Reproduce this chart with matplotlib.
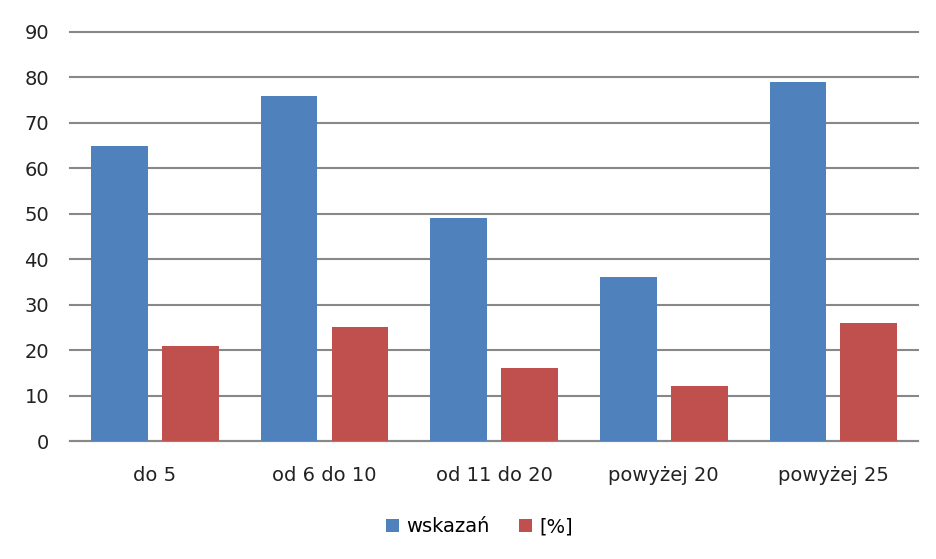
import matplotlib.pyplot as plt
import numpy as np

categories = ['do 5', 'od 6 do 10', 'od 11 do 20', 'powyżej 20', 'powyżej 25']
wskazan = [65, 76, 49, 36, 79]
procent = [21, 25, 16, 12, 26]

fig = plt.figure(figsize=(9.37, 5.59), dpi=100)
ax = fig.add_axes([0.0747, 0.211, 0.9053, 0.732])

x = np.arange(len(categories))
w = 0.335
ax.bar(x - 0.209, wskazan, w, color='#4F81BD', label='wskazań', zorder=3)
ax.bar(x + 0.209, procent, w, color='#C0504D', label='[%]', zorder=3)

ax.set_xlim(-0.5, len(categories) - 0.5)
ax.set_ylim(0, 90)
ax.set_yticks(range(0, 91, 10))
ax.set_xticks(x)
ax.set_xticklabels(categories)
ax.yaxis.grid(True, color='#888888', linewidth=1.5, zorder=0)
for gl in ax.yaxis.get_gridlines():
    gl.set_clip_on(False)
for s in ['top', 'right', 'left']:
    ax.spines[s].set_visible(False)
ax.spines['bottom'].set_color('#888888')
ax.spines['bottom'].set_linewidth(1.5)
ax.tick_params(axis='both', length=0, labelsize=14, colors='#222222')
ax.tick_params(axis='y', pad=15)
ax.tick_params(axis='x', pad=18)

ax.legend(loc='center', bbox_to_anchor=(0.483, -0.21), ncol=2, frameon=False,
          fontsize=14, handlelength=0.65, handleheight=0.65, columnspacing=1.5,
          handletextpad=0.4)

fig.savefig('out.png')
